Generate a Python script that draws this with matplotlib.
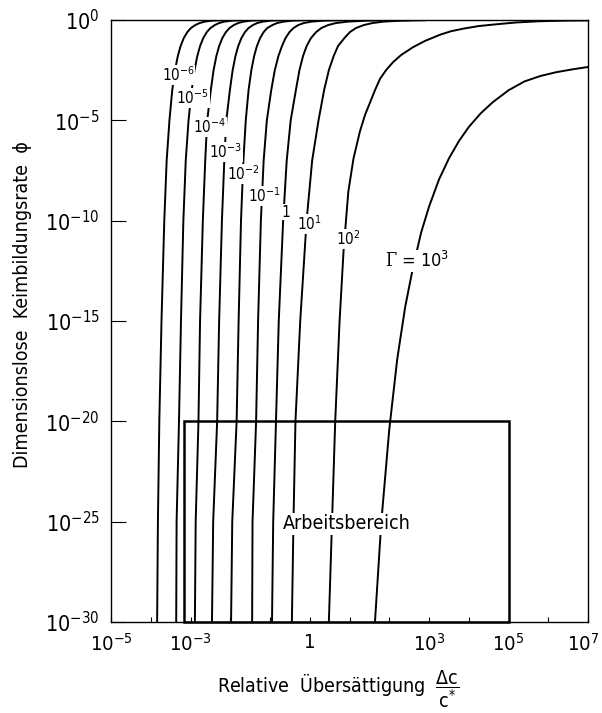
import numpy as np
import matplotlib
matplotlib.use("Agg")
import matplotlib.pyplot as plt
import matplotlib.transforms as mtransforms
from matplotlib.patches import Rectangle

plt.rcParams['font.family'] = ['DejaVu Sans Condensed', 'Noto Sans Condensed',
                               'Liberation Sans Narrow', 'DejaVu Sans']
plt.rcParams['font.stretch'] = 'condensed'
plt.rcParams['mathtext.default'] = 'regular'
plt.rcParams['mathtext.fontset'] = 'custom'
plt.rcParams['mathtext.rm'] = 'DejaVu Serif'

# --- data (log10 values) -------------------------------------------------
# shared log10(phi) levels for the curves Gamma = 1e-6 ... 1e1
phi_exp = [-30, -25, -20, -15, -10, -7, -5, -3.5, -2.5, -1.8, -1.3,
           -0.9, -0.6, -0.4, -0.25, -0.15, -0.08, -0.03, -0.01]

# log10(dc/c*) of each curve at those levels
s_g1e_6 = [-3.84, -3.82, -3.785, -3.73, -3.66, -3.60, -3.53, -3.46, -3.39, -3.32,
           -3.25, -3.17, -3.08, -2.99, -2.88, -2.77, -2.64, -2.45, -2.18]
s_g1e_5 = [-3.36, -3.35, -3.29, -3.24, -3.18, -3.12, -3.05, -2.97, -2.90, -2.83,
           -2.76, -2.68, -2.59, -2.50, -2.39, -2.28, -2.15, -1.95, -1.69]
s_g1e_4 = [-2.89, -2.87, -2.80, -2.76, -2.69, -2.63, -2.58, -2.49, -2.42, -2.35,
           -2.28, -2.20, -2.11, -2.02, -1.91, -1.80, -1.67, -1.47, -1.21]
s_g1e_3 = [-2.46, -2.43, -2.33, -2.28, -2.21, -2.15, -2.10, -2.01, -1.94, -1.87,
           -1.80, -1.72, -1.63, -1.54, -1.43, -1.32, -1.18, -0.97, -0.70]
s_g1e_2 = [-1.98, -1.95, -1.84, -1.79, -1.73, -1.67, -1.61, -1.54, -1.47, -1.40,
           -1.33, -1.25, -1.16, -1.07, -0.94, -0.82, -0.66, -0.42, -0.10]
s_g1e_1 = [-1.45, -1.44, -1.35, -1.30, -1.23, -1.16, -1.08, -0.97, -0.88, -0.79,
           -0.70, -0.61, -0.51, -0.41, -0.29, -0.15, 0.04, 0.37, 0.85]
s_g1e0 = [-0.95, -0.92, -0.85, -0.78, -0.67, -0.58, -0.48, -0.35, -0.26, -0.17,
          -0.08, 0.03, 0.16, 0.29, 0.46, 0.66, 0.95, 1.45, 2.5]
s_g1e1 = [-0.45, -0.41, -0.36, -0.24, -0.08, 0.06, 0.22, 0.36, 0.48, 0.60,
          0.71, 0.87, 1.01, 1.16, 1.36, 1.58, 1.85, 2.3, 2.9]

# Gamma = 1e2 and 1e3 have their own points
s_g1e2 = [0.48, 0.56, 0.64, 0.75, 0.85, 0.97, 1.10, 1.26, 1.39, 1.52, 1.65, 1.77,
          1.93, 2.10, 2.30, 2.60, 2.90, 3.28, 3.55, 3.86, 4.25, 4.70, 5.2, 5.79,
          6.4, 7.0]
phi_g1e2 = [-30, -25, -20, -15, -11.5, -8.55, -6.9, -5.56, -4.73, -4.09, -3.45, -2.92,
            -2.47, -2.09, -1.74, -1.35, -1.04, -0.73, -0.56, -0.43, -0.30, -0.21, -0.12,
            -0.06, -0.03, -0.02]
s_g1e3 = [1.64, 1.8, 2.0, 2.2, 2.4, 2.6, 2.8, 3.0, 3.25, 3.5, 3.75, 4.0, 4.3, 4.6,
          5.0, 5.4, 5.8, 6.2, 6.6, 7.0]
phi_g1e3 = [-30, -25.0, -20.4, -16.9, -14.3, -12.3, -10.6, -9.3, -7.95, -6.9, -6.04,
            -5.33, -4.65, -4.10, -3.50, -3.06, -2.79, -2.60, -2.46, -2.34]

curve_labels = ['$10^{-6}$', '$10^{-5}$', '$10^{-4}$', '$10^{-3}$', '$10^{-2}$',
                '$10^{-1}$', '1', '$10^{1}$', '$10^{2}$']
label_s = [-3.31, -2.94, -2.53, -2.11, -1.68, -1.15, -0.60, -0.02, 0.96]
label_phi = [-2.74, -3.89, -5.33, -6.58, -7.67, -8.77, -9.57, -10.16, -10.91]

# working range box
box_s = [7e-4, 1e5]
box_phi = [1e-30, 1e-20]

x_tick_exp = list(range(-5, 8))
x_label_exp = [-5, -3, 0, 3, 5, 7]
y_tick_exp = list(range(-30, 1, 5))

# --- figure ---------------------------------------------------------------
fig = plt.figure(figsize=(6.02, 7.13), dpi=100)
ax = fig.add_axes([0.1844, 0.1276, 0.7924, 0.8443])
ax.set_xscale('log')
ax.set_yscale('log')

for s in [s_g1e_6, s_g1e_5, s_g1e_4, s_g1e_3, s_g1e_2, s_g1e_1, s_g1e0, s_g1e1]:
    ax.plot(10.0 ** np.array(s), 10.0 ** np.array(phi_exp), color='black', lw=1.4)
ax.plot(10.0 ** np.array(s_g1e2), 10.0 ** np.array(phi_g1e2), color='black', lw=1.4)
ax.plot(10.0 ** np.array(s_g1e3), 10.0 ** np.array(phi_g1e3), color='black', lw=1.4)

ax.add_patch(Rectangle((box_s[0], box_phi[0]), box_s[1] - box_s[0], box_phi[1] - box_phi[0],
                       fill=False, edgecolor='black', lw=1.8, clip_on=False, zorder=3))
ax.text(np.sqrt(box_s[0] * box_s[1]), 10 ** -25.1, 'Arbeitsbereich', fontsize=14,
        ha='center', va='center', zorder=4,
        bbox=dict(facecolor='white', edgecolor='none', pad=1))

for lab, xs, ys in zip(curve_labels, label_s, label_phi):
    ax.text(10 ** xs, 10 ** ys, lab, fontsize=11, ha='center', va='center', zorder=4,
            bbox=dict(facecolor='white', edgecolor='none', pad=0.5))
ax.text(10 ** 2.70, 10 ** -12.0, r'$\mathrm{\Gamma}$ = $10^{3}$', fontsize=13,
        ha='center', va='center', zorder=4,
        bbox=dict(facecolor='white', edgecolor='none', pad=0.5))

ax.set_xlim(1e-5, 1e7)
ax.set_ylim(1e-30, 1)
ax.set_xticks([10.0 ** k for k in x_tick_exp])
ax.set_xticklabels(['1' if k == 0 else ('$10^{%d}$' % k if k in x_label_exp else '')
                    for k in x_tick_exp])
ax.set_yticks([10.0 ** k for k in y_tick_exp])
ax.set_yticklabels(['$10^{%d}$' % k for k in y_tick_exp])
ax.minorticks_off()
ax.tick_params(axis='x', direction='in', length=3.6, width=0.8, labelsize=14.5, pad=8)
ax.tick_params(axis='y', direction='in', length=10.8, width=0.8, labelsize=15.5, pad=8)
for sp in ax.spines.values():
    sp.set_linewidth(1.0)

# pull the last x label in a little so it stays inside the figure
last = ax.get_xticklabels()[-1]
last.set_transform(last.get_transform() +
                   mtransforms.ScaledTranslation(-0.05, 0, fig.dpi_scale_trans))

fig.text(0.0382, 0.5722, 'Dimensionslose  Keimbildungsrate  \u03d5', rotation=90,
         fontsize=14, ha='center', va='center')
fig.text(0.5615, 0.028, r'Relative  Übersättigung  $\dfrac{\Delta c}{c^{*}}$',
         fontsize=14, ha='center', va='baseline')

fig.savefig('out.png', dpi=100)
